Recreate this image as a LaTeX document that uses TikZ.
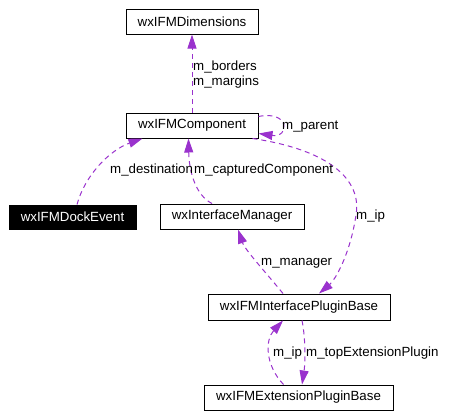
\documentclass[tikz,border=0pt]{standalone}
\usepackage{fontspec}
\setmainfont{Liberation Sans}
\usetikzlibrary{arrows.meta,calc}
\definecolor{edgec}{HTML}{9A32CD}
\begin{document}
\begin{tikzpicture}[x=1pt,y=-1pt,
  cls/.style={draw=black, line width=1pt, minimum height=25pt, inner sep=0pt, font=\fontsize{13.3}{15}\selectfont},
  edge/.style={draw=edgec, line width=1pt, dash pattern=on 5pt off 4pt, -{Triangle[length=14pt,width=9pt,fill=edgec]}},
  lbl/.style={inner sep=0pt, anchor=base west, font=\fontsize{13.3}{15}\selectfont}]
\useasboundingbox (0,0) rectangle (470,418);
\node[cls, minimum width=132pt] (dim) at (192,21.5) {wxIFMDimensions};
\node[cls, minimum width=132pt] (comp) at (192,125.5) {wxIFMComponent};
\node[cls, minimum width=127pt, minimum height=24pt, fill=black, text=white] (dock) at (72.5,217) {wxIFMDockEvent};
\node[cls, minimum width=144pt] (mgr) at (232,216.5) {wxInterfaceManager};
\node[cls, minimum width=182pt, minimum height=26pt] (ipb) at (299,307) {wxIFMInterfacePluginBase};
\node[cls, minimum width=189pt] (epb) at (298.5,397.5) {wxIFMExtensionPluginBase};

\draw[edge] (comp.north) -- (dim.south);
\draw[edge] ($(comp.north east)+(0,4)$) .. controls (290,110) and (290,138) .. ($(comp.south east)+(0,-5)$);
\draw[edge] ($(dock.north)+(4.5,0)$) .. controls (85,175) and (110,150) .. ($(comp.south west)+(17,0)$);
\draw[edge] ($(mgr.north)+(-20,0)$) .. controls (195,195) and (189,170) .. ($(comp.south)+(-3.5,0)$);
\draw[edge] ($(comp.south east)+(-6,0)$) .. controls (330,150) and (362,180) .. (356,215) .. controls (350,255) and (335,280) .. ($(ipb.north)+(20,0)$);
\draw[edge] ($(ipb.north)+(-16,0)$) .. controls (268,275) and (245,250) .. ($(mgr.south)+(6,0)$);
\draw[edge] ($(epb.north)+(-15,0)$) .. controls (265,365) and (265,340) .. ($(ipb.south)+(-16,0)$);
\draw[edge] ($(ipb.south)+(3,0)$) .. controls (306,340) and (305,365) .. ($(epb.north)+(3.5,0)$);

\node[lbl] (l1) at (193,70) {m\_borders};
\node[lbl] (l2) at (193,85) {m\_margins};
\node[lbl] (l3) at (282,129) {m\_parent};
\node[lbl] (l4) at (110,173) {m\_destination};
\node[lbl] (l5) at (194,173) {m\_capturedComponent};
\node[lbl] (l6) at (356,219) {m\_ip};
\node[lbl] (l7) at (261,265) {m\_manager};
\node[lbl] (l8) at (273,356) {m\_ip};
\node[lbl] (l9) at (306,356) {m\_topExtensionPlugin};
\end{tikzpicture}
\end{document}
